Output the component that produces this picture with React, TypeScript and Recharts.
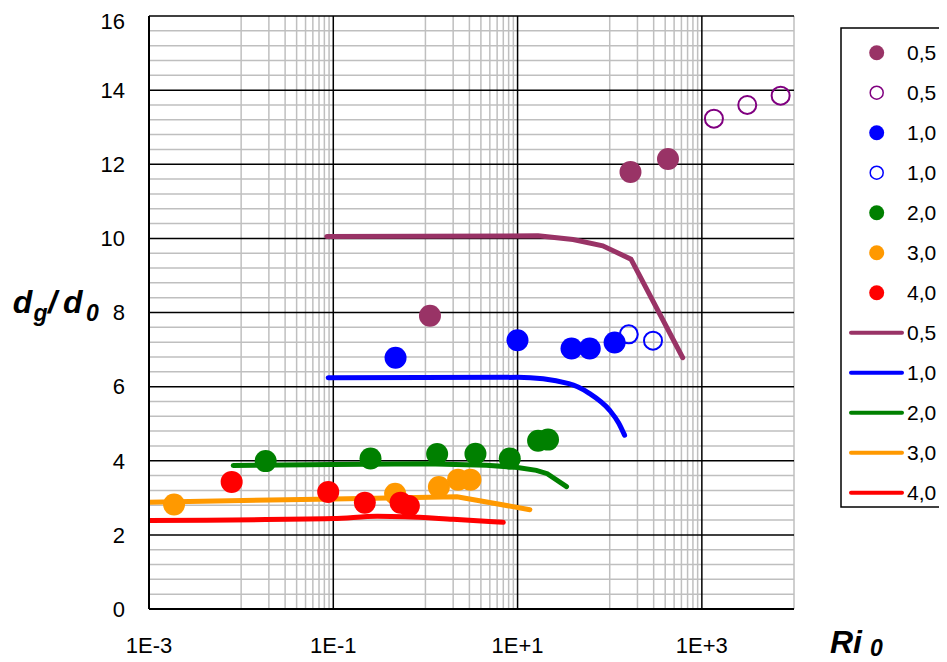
import { ComposedChart, Line, Scatter, XAxis, YAxis, ReferenceLine } from "recharts";

// axis ticks
const xTicks = [0.001, 0.1, 10, 1000];
const xTickLabels = ["1E-3", "1E-1", "1E+1", "1E+3"];
const yTicks = [0, 2, 4, 6, 8, 10, 12, 14, 16];

// measured points, [Ri0, dg/d0]
const dots05 = [[1.12, 7.91], [168, 11.79], [429, 12.14]];
const open05 = [[1352, 13.23], [3110, 13.6], [7160, 13.85]];
const dots10 = [[0.474, 6.78], [9.98, 7.25], [38.5, 7.03], [60.7, 7.03], [113, 7.19]];
const open10 = [[161, 7.41], [295, 7.24]];
const dots20 = [[0.01845, 3.99], [0.2535, 4.06], [1.34, 4.18], [3.49, 4.19], [8.23, 4.06], [16.7, 4.54], [21.4, 4.57]];
const dots30 = [[0.00187, 2.82], [0.469, 3.11], [1.4, 3.29], [2.26, 3.49], [3.08, 3.49]];
const dots40 = [[0.00789, 3.43], [0.0881, 3.16], [0.22, 2.87], [0.537, 2.87], [0.661, 2.78]];

// calculated curves
const line05 = [[0.085, 10.05], [16.7, 10.07], [40, 9.97], [84, 9.8], [170, 9.44], [620, 6.78]];
const line10 = [[0.088, 6.24], [10, 6.25], [36, 6.08], [60, 5.82], [100, 5.36], [125, 5.02], [145, 4.69]];
const line20 = [[0.0082, 3.87], [0.1, 3.9], [1, 3.92], [4.6, 3.88], [10, 3.82], [16, 3.74], [21, 3.65], [34, 3.3]];
const line30 = [[0.001, 2.88], [0.1, 2.97], [2.2, 3.03], [13.6, 2.68]];
const line40 = [[0.001, 2.39], [0.1, 2.44], [0.3, 2.5], [0.6, 2.49], [2, 2.42], [7, 2.34]];

const MAROON = "#993366";
const PURPLE = "#800080";
const BLUE = "#0000ff";
const GREEN = "#008000";
const ORANGE = "#ff9900";
const RED = "#ff0000";

const scatterSeries = [
  { name: "0,5", data: dots05, color: MAROON, open: false },
  { name: "0,5", data: open05, color: PURPLE, open: true },
  { name: "1,0", data: dots10, color: BLUE, open: false },
  { name: "1,0", data: open10, color: BLUE, open: true },
  { name: "2,0", data: dots20, color: GREEN, open: false },
  { name: "3,0", data: dots30, color: ORANGE, open: false },
  { name: "4,0", data: dots40, color: RED, open: false },
];

const lineSeries = [
  { name: "0,5", data: line05, color: MAROON, curve: "linear" },
  { name: "1,0", data: line10, color: BLUE, curve: "monotone" },
  { name: "2,0", data: line20, color: GREEN, curve: "linear" },
  { name: "3,0", data: line30, color: ORANGE, curve: "linear" },
  { name: "4,0", data: line40, color: RED, curve: "monotone" },
];

const toPts = (arr: number[][]) => arr.map(([x, y]) => ({ x, y }));

// grid positions
const xMinor: number[] = [];
for (const m of [0.001, 0.1, 10, 1000]) {
  for (let j = 1; j <= 9; j++) {
    const v = +(m * 10 * j).toPrecision(6);
    if (v <= 10000) xMinor.push(v);
  }
}
const xMajor = [0.1, 10, 1000];
const yMinor: number[] = [];
for (let i = 1; i < 40; i++) if (i % 5 !== 0) yMinor.push(+(i * 0.4).toFixed(1));
const yMajor = [2, 4, 6, 8, 10, 12, 14, 16];

const FONT = "'Liberation Sans', Arial, sans-serif";

function App() {
  const legendRows = [
    ...scatterSeries.map((s) => ({ ...s, kind: "dot" })),
    ...lineSeries.map((s) => ({ ...s, open: false, kind: "line" })),
  ];
  return (
    <div style={{ position: "relative", width: 939, height: 654 }}>
      <ComposedChart width={939} height={654} margin={{ top: 8, right: 153, bottom: 13, left: 0 }}>
        <XAxis
          dataKey="x"
          type="number"
          scale="log"
          domain={[0.001, 10000]}
          allowDataOverflow
          ticks={xTicks}
          tickFormatter={(v) => xTickLabels[xTicks.indexOf(v)] ?? ""}
          height={40}
          tickLine={false}
          tickSize={0}
          tickMargin={28}
          axisLine={{ stroke: "#000", strokeWidth: 2 }}
          tick={{ fill: "#000", fontSize: 22, fontFamily: FONT }}
        />
        <YAxis
          dataKey="y"
          type="number"
          domain={[0, 16]}
          ticks={yTicks}
          width={141}
          tickLine={false}
          tickSize={0}
          tickMargin={24}
          axisLine={{ stroke: "#000", strokeWidth: 2 }}
          tick={{ fill: "#000", fontSize: 22, fontFamily: FONT }}
        />
        {xMinor.map((v) => (
          <ReferenceLine key={"xm" + v} x={v} stroke="#bfbfbf" strokeWidth={1.5} />
        ))}
        {yMinor.map((v) => (
          <ReferenceLine key={"ym" + v} y={v} stroke="#bfbfbf" strokeWidth={1.5} />
        ))}
        {xMajor.map((v) => (
          <ReferenceLine key={"xM" + v} x={v} stroke="#000" strokeWidth={1.5} />
        ))}
        {yMajor.map((v) => (
          <ReferenceLine key={"yM" + v} y={v} stroke="#000" strokeWidth={1.5} />
        ))}
        {lineSeries.map((s, i) => (
          <Line
            key={"l" + i}
            data={toPts(s.data)}
            dataKey="y"
            type={s.curve as "linear"}
            stroke={s.color}
            strokeWidth={5}
            strokeLinecap="round"
            dot={false}
            activeDot={false}
            isAnimationActive={false}
          />
        ))}
        {scatterSeries.map((s, i) => (
          <Scatter
            key={"s" + i}
            data={toPts(s.data)}
            dataKey="y"
            isAnimationActive={false}
            shape={(p: any) =>
              s.open ? (
                <circle cx={p.cx} cy={p.cy} r={9} fill="none" stroke={s.color} strokeWidth={2} />
              ) : (
                <circle cx={p.cx} cy={p.cy} r={11} fill={s.color} />
              )
            }
          />
        ))}
      </ComposedChart>
      <svg
        width={939}
        height={654}
        style={{ position: "absolute", left: 0, top: 0, pointerEvents: "none" }}
        fontFamily={FONT}
      >
        <text fontWeight="bold" fontStyle="italic" fill="#000">
          <tspan x={4.7} y={305} fontSize={32}>d</tspan>
          <tspan x={25.5} y={313} fontSize={23}>g</tspan>
          <tspan x={40} y={305} fontSize={32}>/</tspan>
          <tspan x={55} y={305} fontSize={32}>d</tspan>
          <tspan x={78} y={313} fontSize={23}>0</tspan>
        </text>
        <text fontWeight="bold" fontStyle="italic" fill="#000">
          <tspan x={822} y={645} fontSize={32}>Ri</tspan>
          <tspan x={862} y={648} fontSize={23}>0</tspan>
        </text>
        <rect x={833} y={20} width={104} height={479} fill="#fff" stroke="#000" strokeWidth={1.5} />
        {legendRows.map((r, i) => {
          const cy = 44.7 + 40 * i;
          return (
            <g key={"lg" + i}>
              {r.kind === "line" ? (
                <line x1={843} x2={894} y1={cy} y2={cy} stroke={r.color} strokeWidth={4} strokeLinecap="round" />
              ) : r.open ? (
                <circle cx={868.7} cy={cy} r={6.5} fill="none" stroke={r.color} strokeWidth={1.5} />
              ) : (
                <circle cx={868.7} cy={cy} r={7.5} fill={r.color} />
              )}
              <text x={899} y={cy} dominantBaseline="central" fontSize={21} fill="#000">
                {r.name}
              </text>
            </g>
          );
        })}
      </svg>
    </div>
  );
}

export default App;
